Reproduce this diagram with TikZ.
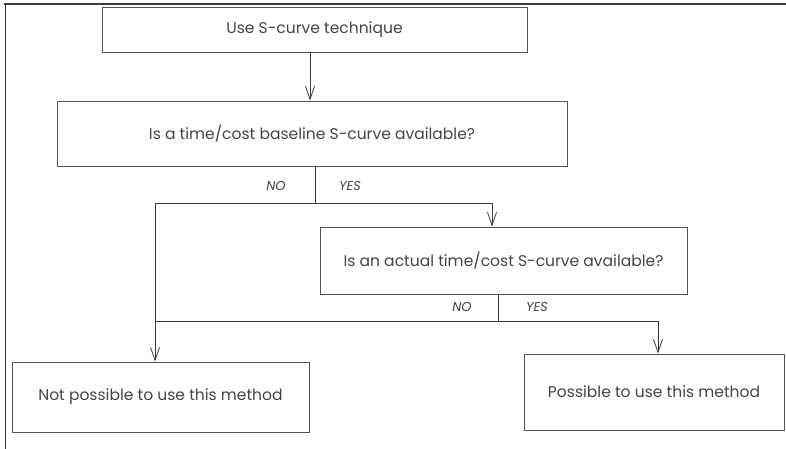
\documentclass[tikz,border=0pt]{standalone}
\usepackage{fontspec}
\setmainfont{Poppins}
\usetikzlibrary{arrows.meta}
\definecolor{ink}{HTML}{3A3A3A}
\definecolor{edge}{HTML}{555555}
\definecolor{words}{HTML}{444444}
\tikzset{
  box/.style={draw=edge, line width=0.9bp, text=words, font=\fontsize{15.6}{18}\selectfont},
  link/.style={draw=ink, line width=0.8bp},
  arr/.style={link, -{Straight Barb[length=13bp, width=9bp, line width=0.8bp]}},
  lbl/.style={text=words, font=\fontsize{13}{15}\selectfont\itshape, inner sep=0pt},
}
\begin{document}
\begin{tikzpicture}[x=1bp, y=-1bp]
\useasboundingbox (0,0) rectangle (786,449);
% page rules
\draw[ink, line width=1.2bp] (4,4) -- (786,4);
\draw[ink, line width=0.9bp] (5,4) -- (5,449);

% boxes, corner to corner
\node[box, minimum width=425bp, minimum height=45bp] (start) at (314.5,29.5) {Use S-curve technique};
\node[box, minimum width=510bp, minimum height=65bp] (base) at (312,133.5) {Is a time/cost baseline S-curve available?};
\node[box, minimum width=367bp, minimum height=67bp] (act) at (503.5,260.5) {Is an actual time/cost S-curve available?};
\node[box, minimum width=297bp, minimum height=70bp] (no) at (160.5,397) {Not possible to use this method};
\node[box, minimum width=260bp, minimum height=76bp] (yes) at (654,392) {Possible to use this method};

% junctions
\coordinate (j1) at (315,203);
\coordinate (j1l) at (155,203);
\coordinate (j1r) at (492,203);
\coordinate (j2) at (498,321);
\coordinate (j2l) at (155,321);
\coordinate (j2r) at (658,321);

% connectors
\draw[arr] (start.south -| 310,0) -- (base.north -| 310,0);
\draw[link] (base.south -| j1) -- (j1);
\draw[link] (j1l) -- (j1r);
\draw[arr] (j1r) -- (act.north -| j1r);
\draw[link] (act.south -| j2) -- (j2);
\draw[link] (j2l) -- (j2r);
\draw[arr] (j2r) -- (yes.north -| j2r);
\draw[arr] (j1l) -- (no.north -| j1l);

% branch labels
\node[lbl] (n1) at (276,186) {NO};
\node[lbl] (y1) at (350,186) {YES};
\node[lbl] (n2) at (462,307) {NO};
\node[lbl] (y2) at (537,307) {YES};
\end{tikzpicture}
\end{document}
